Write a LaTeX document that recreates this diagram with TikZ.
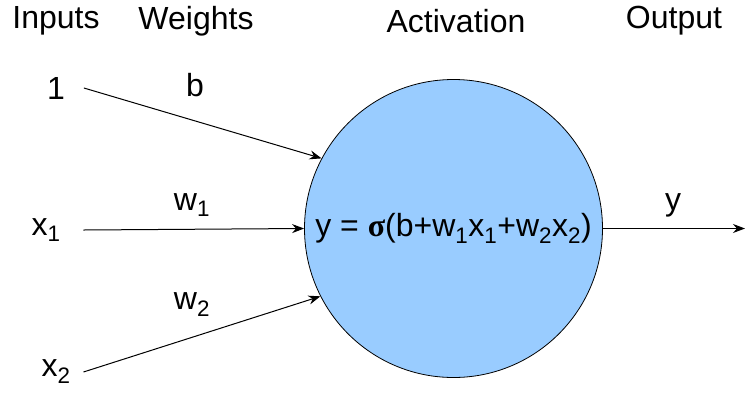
\documentclass[tikz,border=0pt]{standalone}
\usepackage{fontspec}
\setmainfont{Liberation Sans}
\newfontfamily\sigmafont{Liberation Serif}
\usetikzlibrary{arrows.meta}
\definecolor{cellblue}{RGB}{153,204,255}
\tikzset{
  txt/.style={font=\fontsize{32}{38}\selectfont, inner sep=0pt},
  wire/.style={-{Stealth[length=12pt,width=9pt]}, line width=1pt},
}
\newcommand{\sub}[1]{\textsubscript{#1}}
\begin{document}
\begin{tikzpicture}[x=1pt, y=-1pt]
  \useasboundingbox (0,0) rectangle (745,392);

  % Headings
  \node[txt] (hin)  at (56,21)  {Inputs};
  \node[txt] (hw)   at (196,21) {Weights};
  \node[txt] (hact) at (456,21) {Activation};
  \node[txt] (hout) at (674,21) {Output};

  % Inputs
  \node[txt, outer sep=19pt] (one) at (56,88)  {1};
  \node[txt, outer sep=23pt] (x1)  at (46,230) {x\sub{1}};
  \node[txt, outer sep=13pt] (x2)  at (56,372) {x\sub{2}};

  % Neuron
  \node[draw, circle, fill=cellblue, line width=0.8pt, minimum size=298pt,
        inner sep=0pt, txt] (neuron) at (453.5,228.5)
        {y = {\sigmafont\bfseries σ}(b+w\sub{1}x\sub{1}+w\sub{2}x\sub{2})};

  \coordinate (yout) at (745,228.5);

  % Connections
  \draw[wire] (one.east) -- (neuron.152);
  \draw[wire] (x1.east) -- (neuron.west);
  \draw[wire] (x2.east) -- (neuron.207);
  \draw[wire] (neuron.east) -- (yout);

  % Weight labels
  \node[txt] (lb)  at (195,85)  {b};
  \node[txt] (lw1) at (192,205) {w\sub{1}};
  \node[txt] (lw2) at (192,305) {w\sub{2}};
  \node[txt] (ly)  at (673,205) {y};
\end{tikzpicture}
\end{document}
